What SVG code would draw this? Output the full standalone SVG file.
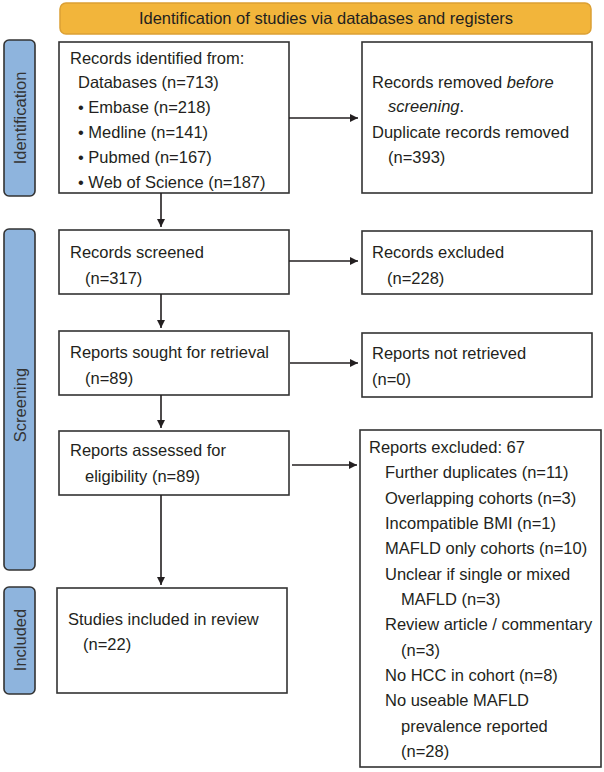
<svg xmlns="http://www.w3.org/2000/svg" width="604" height="772" viewBox="0 0 604 772">
<defs>
<style>
text{font-family:"Liberation Sans",Arial,sans-serif;font-size:16.5px;fill:#231f20}
.box{fill:#fff;stroke:#333;stroke-width:1.6}
.side{fill:#8eb4dd;stroke:#333;stroke-width:1.6}
.banner{fill:#f2b53b;stroke:#dca034;stroke-width:1.5}
.lbl{text-anchor:middle;fill:#333}
.conn line{stroke:#231f20;stroke-width:1.6}
</style>
<marker id="ah" viewBox="0 0 10 10" refX="10" refY="5" markerWidth="8" markerHeight="8" markerUnits="userSpaceOnUse" orient="auto">
<path d="M0,0 L10,5 L0,10 z" fill="#231f20"/>
</marker>
</defs>
<g id="banner">
<rect class="banner" x="60" y="3" width="531" height="31" rx="6"/>
<text x="326" y="24" text-anchor="middle">Identification of studies via databases and registers</text>
</g>
<g id="label-identification">
<rect class="side" x="4" y="40" width="31" height="156" rx="5"/>
<text class="lbl" transform="translate(25.5,118) rotate(-90)">Identification</text>
</g>
<g id="label-screening">
<rect class="side" x="4" y="229" width="31" height="341" rx="5"/>
<text class="lbl" transform="translate(25.5,405) rotate(-90)">Screening</text>
</g>
<g id="label-included">
<rect class="side" x="4" y="587" width="31" height="107" rx="5"/>
<text class="lbl" transform="translate(25.5,640) rotate(-90)">Included</text>
</g>
<g id="records-identified">
<rect class="box" x="59" y="42" width="230" height="151"/>
<text x="70" y="64">Records identified from:</text>
<text x="78" y="88">Databases (n=713)</text>
<text x="78" y="113">• Embase (n=218)</text>
<text x="78" y="138">• Medline (n=141)</text>
<text x="78" y="163">• Pubmed (n=167)</text>
<text x="78" y="188">• Web of Science (n=187)</text>
</g>
<g id="records-removed">
<rect class="box" x="362" y="42" width="230" height="151"/>
<text x="372" y="88">Records removed <tspan font-style="italic">before</tspan></text>
<text x="388" y="112"><tspan font-style="italic">screening</tspan>.</text>
<text x="372" y="138">Duplicate records removed</text>
<text x="388" y="163">(n=393)</text>
</g>
<g id="records-screened">
<rect class="box" x="59" y="230" width="230" height="64"/>
<text x="70" y="258">Records screened</text>
<text x="85" y="284">(n=317)</text>
</g>
<g id="records-excluded">
<rect class="box" x="362" y="231" width="230" height="63"/>
<text x="372" y="258">Records excluded</text>
<text x="387" y="284">(n=228)</text>
</g>
<g id="reports-sought">
<rect class="box" x="59" y="331" width="230" height="64"/>
<text x="70" y="358">Reports sought for retrieval</text>
<text x="85" y="384">(n=89)</text>
</g>
<g id="reports-not-retrieved">
<rect class="box" x="362" y="333" width="230" height="64"/>
<text x="372" y="359">Reports not retrieved</text>
<text x="372" y="385">(n=0)</text>
</g>
<g id="reports-assessed">
<rect class="box" x="59" y="431" width="230" height="64"/>
<text x="70" y="456">Reports assessed for</text>
<text x="85" y="482">eligibility (n=89)</text>
</g>
<g id="reports-excluded">
<rect class="box" x="360" y="430" width="241" height="337"/>
<text x="369" y="453">Reports excluded: 67</text>
<text x="385" y="478">Further duplicates (n=11)</text>
<text x="385" y="504">Overlapping cohorts (n=3)</text>
<text x="385" y="529">Incompatible BMI (n=1)</text>
<text x="385" y="554">MAFLD only cohorts (n=10)</text>
<text x="385" y="580">Unclear if single or mixed</text>
<text x="401" y="605">MAFLD (n=3)</text>
<text x="385" y="630">Review article / commentary</text>
<text x="401" y="656">(n=3)</text>
<text x="385" y="681">No HCC in cohort (n=8)</text>
<text x="385" y="706">No useable MAFLD</text>
<text x="401" y="732">prevalence reported</text>
<text x="401" y="757">(n=28)</text>
</g>
<g id="studies-included">
<rect class="box" x="57" y="588" width="230" height="105"/>
<text x="68" y="625">Studies included in review</text>
<text x="83" y="650">(n=22)</text>
</g>
<g id="connectors" class="conn">
<line x1="289" y1="118" x2="358" y2="118" marker-end="url(#ah)"/>
<line x1="161" y1="193" x2="161" y2="227" marker-end="url(#ah)"/>
<line x1="289" y1="261" x2="358" y2="261" marker-end="url(#ah)"/>
<line x1="161" y1="294" x2="161" y2="328" marker-end="url(#ah)"/>
<line x1="290" y1="363" x2="358" y2="363" marker-end="url(#ah)"/>
<line x1="161" y1="395" x2="161" y2="428" marker-end="url(#ah)"/>
<line x1="292" y1="465" x2="357" y2="465" marker-end="url(#ah)"/>
<line x1="161" y1="495" x2="161" y2="585" marker-end="url(#ah)"/>
</g>
</svg>
